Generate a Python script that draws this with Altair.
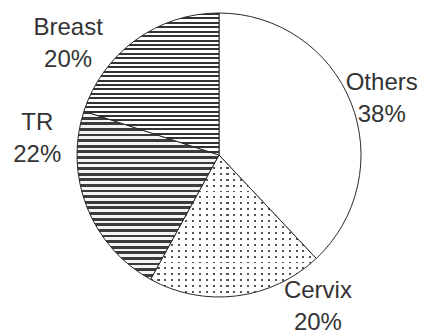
import altair as alt
import pandas as pd

categories = ["Others", "Cervix", "TR", "Breast"]
values = [38, 20, 22, 20]
labels = ["Others\n38%", "Cervix\n20%", "TR\n22%", "Breast\n20%"]
order = [0, 1, 2, 3]

df = pd.DataFrame({"category": categories, "value": values, "label": labels, "order": order})

CX, CY, R = 219, 155, 142


def stripes(n, frac, dark, light, vertical_vector=True):
    stops = []
    for i in range(n):
        a = i / n
        b = min(1.0, (i + frac) / n)
        c = min(1.0, (i + 1) / n)
        stops += [
            alt.GradientStop(offset=a, color=dark),
            alt.GradientStop(offset=b, color=dark),
            alt.GradientStop(offset=b, color=light),
            alt.GradientStop(offset=c, color=light),
        ]
    if vertical_vector:
        return alt.LinearGradient(gradient="linear", stops=stops, x1=0, x2=0, y1=0, y2=1)
    return alt.LinearGradient(gradient="linear", stops=stops, x1=0, x2=1, y1=0, y2=0)


base = alt.Chart(df).transform_window(
    cum="sum(value)", sort=[alt.SortField("order")], frame=[None, 0]
).transform_calculate(
    start="datum.cum - datum.value", mid="datum.cum - datum.value / 2"
)

theta_scale = alt.Scale(domain=[0, 100])


def wedge(cat, fill, stroke="#2a2a2a", sw=1.0):
    return base.transform_filter(alt.datum.category == cat).mark_arc(
        radius=R, fill=fill, stroke=stroke, strokeWidth=sw
    ).encode(
        theta=alt.Theta("start:Q", scale=theta_scale),
        theta2="cum:Q",
        x=alt.value(CX),
        y=alt.value(CY),
    )


others = wedge("Others", "#ffffff")
cervix_a = wedge("Cervix", stripes(24, 0.3, "#555555", "#ffffff", vertical_vector=False), stroke=None, sw=0)
cervix_b = wedge("Cervix", stripes(24, 0.33, "rgba(255,255,255,0)", "#ffffff", vertical_vector=True))
tr = wedge("TR", stripes(30, 0.5, "#3c3c3c", "#f4f4f4"))
breast = wedge("Breast", stripes(32, 0.45, "#333333", "#ffffff"))


def label(cat, dx, dy):
    return base.transform_filter(alt.datum.category == cat).mark_text(
        radius=175, dx=dx, dy=dy, font="Liberation Sans", fontSize=24,
        color="#333333", lineBreak="\n", lineHeight=32, align="center", baseline="middle"
    ).encode(
        theta=alt.Theta("mid:Q", scale=theta_scale),
        text="label:N",
        x=alt.value(CX),
        y=alt.value(CY),
    )


texts = [
    label("Others", 0, -8),
    label("Cervix", 77, -38),
    label("TR", -19, -96),
    label("Breast", -48, 15),
]

chart = alt.layer(others, cervix_a, cervix_b, tr, breast, *texts).properties(
    width=422, height=331, padding=0, autosize=alt.AutoSizeParams(type="none"),
    background="#ffffff"
).configure_view(stroke=None)

chart.save("out.html", embed_options={"renderer": "svg", "actions": False})
